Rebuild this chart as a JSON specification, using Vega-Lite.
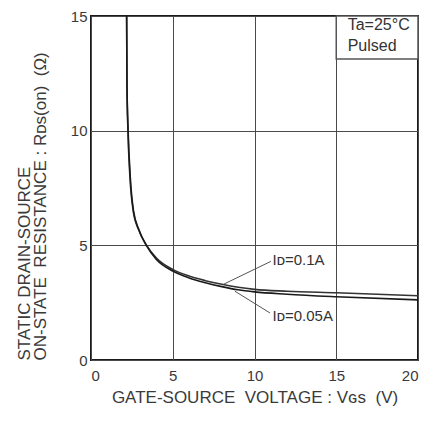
{
  "$schema": "https://vega.github.io/schema/vega-lite/v6.json",
  "autosize": "none",
  "padding": {"left": 91, "top": 16, "right": 18, "bottom": 62},
  "width": 327,
  "height": 344,
  "background": "white",
  "config": {
    "font": "Liberation Sans",
    "view": {"stroke": "#1a1a1a", "strokeWidth": 2},
    "axis": {"domain": false, "ticks": false, "labelFont": "Liberation Sans", "labelFontSize": 15, "labelColor": "#3a3a3a", "titleFont": "Liberation Sans", "titleFontSize": 17, "titleFontWeight": "normal", "titleColor": "#3a3a3a", "gridColor": "#4a4a4a", "gridWidth": 1, "gridOpacity": 1}
  },
  "datasets": {
    "curves": [
      {"vgs": 2.18, "r": 15.0, "id": "0.1A"},
      {"vgs": 2.2, "r": 12.0, "id": "0.1A"},
      {"vgs": 2.26, "r": 10.0, "id": "0.1A"},
      {"vgs": 2.38, "r": 8.0, "id": "0.1A"},
      {"vgs": 2.58, "r": 6.5, "id": "0.1A"},
      {"vgs": 2.9, "r": 5.7, "id": "0.1A"},
      {"vgs": 3.4, "r": 5.0, "id": "0.1A"},
      {"vgs": 4.0, "r": 4.45, "id": "0.1A"},
      {"vgs": 5.0, "r": 3.95, "id": "0.1A"},
      {"vgs": 6.0, "r": 3.66, "id": "0.1A"},
      {"vgs": 7.0, "r": 3.46, "id": "0.1A"},
      {"vgs": 8.0, "r": 3.3, "id": "0.1A"},
      {"vgs": 9.0, "r": 3.17, "id": "0.1A"},
      {"vgs": 10.0, "r": 3.08, "id": "0.1A"},
      {"vgs": 12.0, "r": 3.0, "id": "0.1A"},
      {"vgs": 15.0, "r": 2.93, "id": "0.1A"},
      {"vgs": 20.0, "r": 2.8, "id": "0.1A"},
      {"vgs": 2.18, "r": 15.0, "id": "0.05A"},
      {"vgs": 2.2, "r": 12.0, "id": "0.05A"},
      {"vgs": 2.27, "r": 10.0, "id": "0.05A"},
      {"vgs": 2.4, "r": 8.0, "id": "0.05A"},
      {"vgs": 2.6, "r": 6.5, "id": "0.05A"},
      {"vgs": 2.92, "r": 5.7, "id": "0.05A"},
      {"vgs": 3.42, "r": 4.95, "id": "0.05A"},
      {"vgs": 4.0, "r": 4.38, "id": "0.05A"},
      {"vgs": 5.0, "r": 3.88, "id": "0.05A"},
      {"vgs": 6.0, "r": 3.58, "id": "0.05A"},
      {"vgs": 7.0, "r": 3.37, "id": "0.05A"},
      {"vgs": 8.0, "r": 3.2, "id": "0.05A"},
      {"vgs": 9.0, "r": 3.06, "id": "0.05A"},
      {"vgs": 10.0, "r": 2.97, "id": "0.05A"},
      {"vgs": 12.0, "r": 2.87, "id": "0.05A"},
      {"vgs": 15.0, "r": 2.76, "id": "0.05A"},
      {"vgs": 20.0, "r": 2.62, "id": "0.05A"}
    ],
    "leaders": [
      {"x": 8.1, "y": 3.3, "x2": 11.0, "y2": 4.3},
      {"x": 8.8, "y": 3.0, "x2": 10.95, "y2": 2.05}
    ],
    "labels": [
      {"x": 11.1, "y": 4.36, "t": "Iᴅ=0.1A"},
      {"x": 11.1, "y": 1.92, "t": "Iᴅ=0.05A"}
    ],
    "box": [{"x": 15, "x2": 20, "y": 13.13, "y2": 15}],
    "note": [
      {"x": 15.7, "y": 14.62, "t": "Ta=25°C"},
      {"x": 15.7, "y": 13.68, "t": "Pulsed"}
    ]
  },
  "layer": [
    {
      "data": {"name": "curves"},
      "mark": {"type": "line", "strokeWidth": 1.6, "clip": true, "interpolate": "monotone"},
      "encoding": {
        "x": {"field": "vgs", "type": "quantitative", "scale": {"domain": [0, 20], "nice": false}, "axis": {"values": [0, 5, 10, 15, 20], "grid": true, "labelPadding": 8, "title": "GATE-SOURCE\u00a0\u00a0VOLTAGE : Vɢs\u00a0\u00a0(V)", "titlePadding": 6}},
        "y": {"field": "r", "type": "quantitative", "scale": {"domain": [0, 15], "nice": false}, "axis": {"values": [0, 5, 10, 15], "grid": true, "labelPadding": 4, "title": ["STATIC DRAIN-SOURCE", "ON-STATE\u00a0\u00a0RESISTANCE : Rᴅs(on)\u00a0\u00a0(Ω)"], "titleLineHeight": 16, "titleAnchor": "start", "titleAlign": "left", "titlePadding": 21}},
        "color": {"field": "id", "type": "nominal", "scale": {"range": ["#1a1a1a", "#333333"]}, "legend": null},
        "detail": {"field": "id"}
      }
    },
    {
      "data": {"name": "leaders"},
      "mark": {"type": "rule", "color": "#555", "strokeWidth": 1},
      "encoding": {
        "x": {"field": "x", "type": "quantitative"},
        "y": {"field": "y", "type": "quantitative"},
        "x2": {"field": "x2"},
        "y2": {"field": "y2"}
      }
    },
    {
      "data": {"name": "labels"},
      "mark": {"type": "text", "align": "left", "baseline": "middle", "fontSize": 15, "color": "#333"},
      "encoding": {
        "x": {"field": "x", "type": "quantitative"},
        "y": {"field": "y", "type": "quantitative"},
        "text": {"field": "t"}
      }
    },
    {
      "data": {"name": "box"},
      "mark": {"type": "rect", "fill": "white", "stroke": "#555", "strokeWidth": 1.5},
      "encoding": {
        "x": {"field": "x", "type": "quantitative"},
        "x2": {"field": "x2"},
        "y": {"field": "y", "type": "quantitative"},
        "y2": {"field": "y2"}
      }
    },
    {
      "data": {"name": "note"},
      "mark": {"type": "text", "align": "left", "baseline": "middle", "fontSize": 16, "color": "#333"},
      "encoding": {
        "x": {"field": "x", "type": "quantitative"},
        "y": {"field": "y", "type": "quantitative"},
        "text": {"field": "t"}
      }
    }
  ]
}
